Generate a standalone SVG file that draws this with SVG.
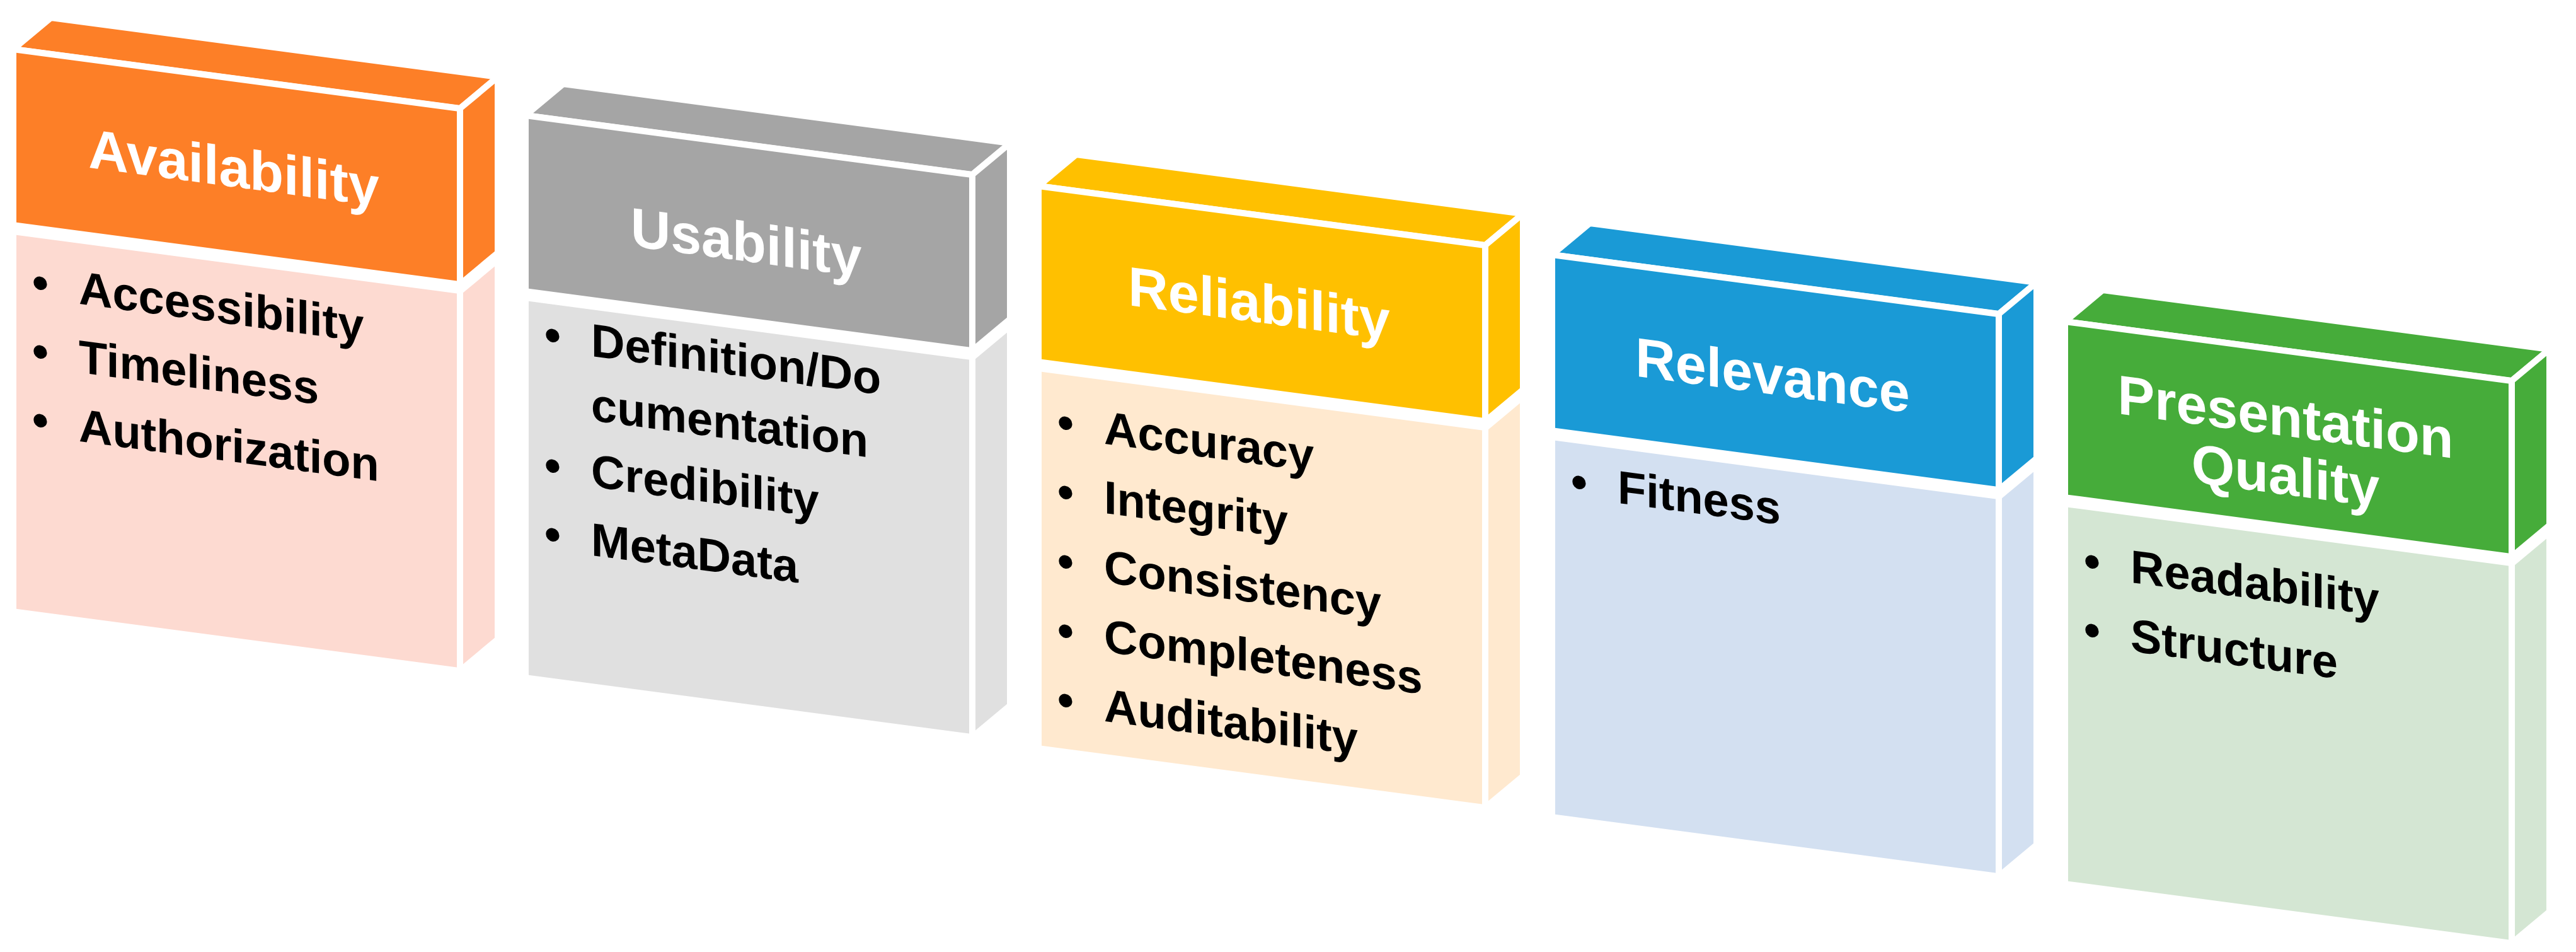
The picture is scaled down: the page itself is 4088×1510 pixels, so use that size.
<svg xmlns="http://www.w3.org/2000/svg" width="4088" height="1510" viewBox="0 0 4088 1510">
<style>
.s{stroke:#fff;stroke-width:10;stroke-linejoin:round}
.t{font-family:"Liberation Sans",Arial,sans-serif;font-weight:bold;font-size:88px;fill:#fff;text-anchor:middle}
.i{font-family:"Liberation Sans",Arial,sans-serif;font-weight:bold;font-size:74px;fill:#000}
</style>
<rect width="4088" height="1510" fill="#fff"/>
<defs>
<g id="shape">
<polygon class="s" points="0,0 709,94 769,44 60,-50"/>
</g>
</defs>
<!-- Box 1 -->
<g id="availability" transform="translate(21,78)">
<polygon class="s" fill="#FD7F27" points="0,0 709,94 769,44 60,-50"/>
<polygon class="s" fill="#FD7F27" points="709,94 769,44 769,323 709,373"/>
<polygon class="s" fill="#FDDAD1" points="709,384 769,334 769,936 709,986"/>
<g transform="skewY(7.57)">
<rect class="s" x="0" y="0" width="709" height="279" fill="#FD7F27"/>
<rect class="s" x="0" y="289" width="709" height="603" fill="#FDDAD1"/>
<text class="t" x="350" y="172">Availability</text>
<g class="i"><text x="30" y="390">•</text><text x="104" y="390">Accessibility</text>
<text x="30" y="499">•</text><text x="104" y="499">Timeliness</text>
<text x="30" y="608">•</text><text x="104" y="608">Authorization</text></g>
</g>
</g>
<!-- Box 2 -->
<g id="usability" transform="translate(834,183)">
<polygon class="s" fill="#A5A5A5" points="0,0 709,94 769,44 60,-50"/>
<polygon class="s" fill="#A5A5A5" points="709,94 769,44 769,323 709,373"/>
<polygon class="s" fill="#E0E0E0" points="709,384 769,334 769,936 709,986"/>
<g transform="skewY(7.57)">
<rect class="s" x="0" y="0" width="709" height="279" fill="#A5A5A5"/>
<rect class="s" x="0" y="289" width="709" height="603" fill="#E0E0E0"/>
<text class="t" x="350" y="185">Usability</text>
<g class="i"><text x="30" y="368">•</text><text x="104" y="368">Definition/Do</text>
<text x="104" y="470">cumentation</text>
<text x="30" y="575">•</text><text x="104" y="575">Credibility</text>
<text x="30" y="684">•</text><text x="104" y="684">MetaData</text></g>
</g>
</g>
<!-- Box 3 -->
<g id="reliability" transform="translate(1648,295)">
<polygon class="s" fill="#FFC000" points="0,0 709,94 769,44 60,-50"/>
<polygon class="s" fill="#FFC000" points="709,94 769,44 769,323 709,373"/>
<polygon class="s" fill="#FFE9CF" points="709,384 769,334 769,936 709,986"/>
<g transform="skewY(7.57)">
<rect class="s" x="0" y="0" width="709" height="279" fill="#FFC000"/>
<rect class="s" x="0" y="289" width="709" height="603" fill="#FFE9CF"/>
<text class="t" x="350" y="170">Reliability</text>
<g class="i"><text x="30" y="395">•</text><text x="104" y="395">Accuracy</text>
<text x="30" y="505">•</text><text x="104" y="505">Integrity</text>
<text x="30" y="615">•</text><text x="104" y="615">Consistency</text>
<text x="30" y="725">•</text><text x="104" y="725">Completeness</text>
<text x="30" y="835">•</text><text x="104" y="835">Auditability</text></g>
</g>
</g>
<!-- Box 4 -->
<g id="relevance" transform="translate(2463,404)">
<polygon class="s" fill="#1A9AD6" points="0,0 709,94 769,44 60,-50"/>
<polygon class="s" fill="#1A9AD6" points="709,94 769,44 769,323 709,373"/>
<polygon class="s" fill="#D3E0F1" points="709,384 769,334 769,936 709,986"/>
<g transform="skewY(7.57)">
<rect class="s" x="0" y="0" width="709" height="279" fill="#1A9AD6"/>
<rect class="s" x="0" y="289" width="709" height="603" fill="#D3E0F1"/>
<text class="t" x="350" y="175">Relevance</text>
<g class="i"><text x="30" y="380">•</text><text x="104" y="380">Fitness</text></g>
</g>
</g>
<!-- Box 5 -->
<g id="presentation-quality" transform="translate(3277,510)">
<polygon class="s" fill="#46AC3A" points="0,0 709,94 769,44 60,-50"/>
<polygon class="s" fill="#46AC3A" points="709,94 769,44 769,323 709,373"/>
<polygon class="s" fill="#D4E6D3" points="709,384 769,334 769,936 709,986"/>
<g transform="skewY(7.57)">
<rect class="s" x="0" y="0" width="709" height="279" fill="#46AC3A"/>
<rect class="s" x="0" y="289" width="709" height="603" fill="#D4E6D3"/>
<text class="t" x="350" y="135">Presentation</text>
<text class="t" x="350" y="228">Quality</text>
<g class="i"><text x="30" y="400">•</text><text x="104" y="400">Readability</text>
<text x="30" y="509">•</text><text x="104" y="509">Structure</text></g>
</g>
</g>
<g id="connectors"/>
</svg>
